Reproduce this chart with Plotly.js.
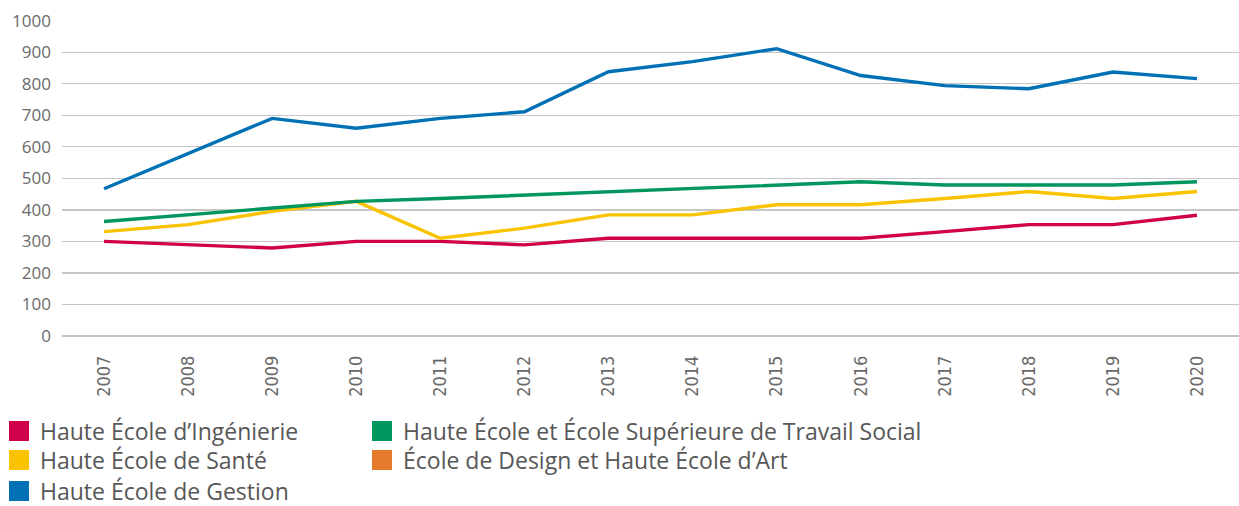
<!DOCTYPE html>
<html><head><meta charset="utf-8">
<script src="https://cdn.plot.ly/plotly-3.0.1.min.js"></script>
<style>html,body{margin:0;padding:0;background:#fff}#chart{width:1239px;height:506px}</style>
</head><body><div id="chart"></div>
<script>
const years = ['2007','2008','2009','2010','2011','2012','2013','2014','2015','2016','2017','2018','2019','2020'];
const ingenierie    = [300, 289, 279, 300, 300, 289, 310, 310, 310, 310, 331, 353, 353, 383];
const sante         = [331, 353, 395, 427, 310, 342, 384, 384, 416, 416, 436, 458, 436, 458];
const gestion       = [467, 578, 690, 659, 690, 711, 838, 870, 911, 826, 794, 784, 837, 816];
const travailSocial = [363, 384, 406, 427, 436, 447, 458, 468, 479, 489, 479, 479, 479, 489];
const designArt     = [null, null, null, null, null, null, null, null, null, null, null, null, null, null];
const yTicks = [0, 100, 200, 300, 400, 500, 600, 700, 800, 900, 1000];

const seriesNames  = ['Haute École d’Ingénierie', 'Haute École de Santé', 'Haute École de Gestion',
                      'Haute École et École Supérieure de Travail Social', 'École de Design et Haute École d’Art'];
const seriesValues = [ingenierie, sante, gestion, travailSocial, designArt];
const seriesColors = ['#d0004b', '#f9c300', '#0071b5', '#00965e', '#e67a2e'];

// legend slot of each series: [column, row]
const legendSlots = [[0, 0], [0, 1], [0, 2], [1, 0], [1, 1]];
const legendColX = [-2, 361];       // px from left of figure
const legendRowY = [431, 460, 491]; // px from top of figure (centre of entry)

const W = 1239, H = 506;
const M = { l: 62, r: 0, t: 20, b: 170 };
const plotW = W - M.l - M.r;
const traces = [];
seriesValues.forEach((vals, i) => {
  traces.push({
    type: 'scatter', mode: 'lines', x: years, y: vals, name: seriesNames[i],
    line: { color: seriesColors[i], width: 3.4 }, showlegend: false, connectgaps: false
  });
});
const legendFont = { family: 'Open Sans', size: 23, color: '#575757' };
const layout = {
  width: W, height: H,
  margin: { l: M.l, r: M.r, t: M.t, b: M.b, autoexpand: false },
  paper_bgcolor: '#ffffff', plot_bgcolor: '#ffffff',
  font: { family: 'Open Sans', color: '#666666' },
  xaxis: {
    type: 'category', range: [-0.5, 13.5], showgrid: false, zeroline: false, showline: false,
    ticks: '', tickangle: -90, ticklabelstandoff: 15,
    tickfont: { family: 'Liberation Sans Narrow, DejaVu Sans Condensed, sans-serif', size: 18, color: '#6a6a6a' }
  },
  yaxis: {
    range: [0, 1002], tickmode: 'array', tickvals: yTicks, ticktext: yTicks.map(String),
    showgrid: true, gridcolor: '#c6c6c6', gridwidth: 1.3,
    zeroline: true, zerolinecolor: '#c2c2c2', zerolinewidth: 2, showline: false,
    ticks: '', ticklabelstandoff: 10,
    tickfont: { family: 'Open Sans', size: 17, color: '#6a6a6a' }
  },
  showlegend: true
};
seriesNames.forEach((n, i) => {
  const key = i === 0 ? 'legend' : 'legend' + (i + 1);
  const [col, row] = legendSlots[i];
  traces.push({
    type: 'scatter', mode: 'markers', x: [null], y: [null], name: n, legend: key,
    marker: { symbol: 'square', size: 16, color: seriesColors[i], line: { color: seriesColors[i], width: 4 } },
    showlegend: true, hoverinfo: 'skip'
  });
  layout[key] = {
    xref: 'paper', yref: 'container',
    x: (legendColX[col] - M.l) / plotW, xanchor: 'left',
    y: 1 - legendRowY[row] / H, yanchor: 'middle',
    orientation: 'v', itemwidth: 32, font: legendFont,
    bgcolor: 'rgba(0,0,0,0)', borderwidth: 0
  };
});
Plotly.newPlot('chart', traces, layout, { displayModeBar: false, staticPlot: true });
</script></body></html>
